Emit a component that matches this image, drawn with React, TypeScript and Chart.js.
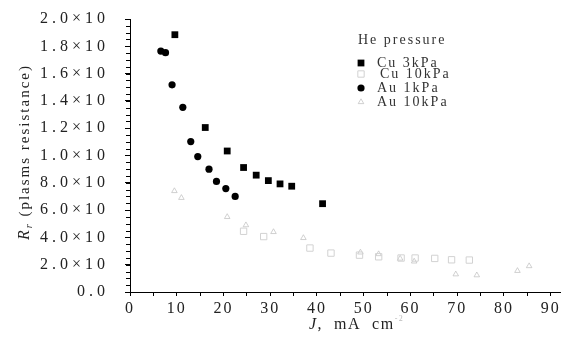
import React, { useEffect, useRef } from "react";
import { Chart, registerables } from "chart.js";

Chart.register(...registerables);

const cu3J = [9.6, 16.1, 20.8, 24.3, 27.0, 29.6, 32.1, 34.6, 41.2];
const cu3R = [1.885, 1.205, 1.033, 0.912, 0.856, 0.816, 0.792, 0.775, 0.647];

const cu10J = [24.3, 28.6, 38.5, 43.0, 49.1, 53.2, 58.0, 61.0, 65.2, 68.8, 72.6];
const cu10R = [0.445, 0.406, 0.322, 0.285, 0.27, 0.258, 0.249, 0.249, 0.246, 0.236, 0.234];

const au1J = [6.6, 7.6, 9.0, 11.3, 13.0, 14.5, 16.9, 18.5, 20.5, 22.5];
const au1R = [1.765, 1.753, 1.518, 1.353, 1.102, 0.992, 0.9, 0.81, 0.758, 0.7];

const au10J = [9.5, 11.0, 20.8, 24.8, 30.7, 37.1, 49.3, 53.2, 57.8, 60.8, 69.7, 74.2, 82.9, 85.4];
const au10R = [0.74, 0.69, 0.55, 0.49, 0.44, 0.396, 0.29, 0.278, 0.245, 0.224, 0.13, 0.123, 0.155, 0.19];

const yTickLabels = [
  "0.0", "2.0×10", "4.0×10", "6.0×10", "8.0×10", "1.0×10",
  "1.2×10", "1.4×10", "1.6×10", "1.8×10", "2.0×10",
];

const seriesNames = ["Cu 3kPa", "Cu 10kPa", "Au 1kPa", "Au 10kPa"];
const legendTitle = "He pressure";
const xTitle = ",  mA  cm";
const yTitleRest = " (plasms resistance)";

const FONT = "'Liberation Serif', 'DejaVu Serif', serif";

const zip = (xs: number[], ys: number[]) => xs.map((x, i) => ({ x, y: ys[i] }));

const styles = [
  { pointStyle: "rect", radius: 4.8, bg: "#000", border: "#000", bw: 0 },
  { pointStyle: "rect", radius: 4.5, bg: "rgba(0,0,0,0)", border: "#d2d2d2", bw: 1 },
  { pointStyle: "circle", radius: 3.6, bg: "#000", border: "#000", bw: 0 },
  { pointStyle: "triangle", radius: 3.2, bg: "rgba(0,0,0,0)", border: "#bdbdbd", bw: 0.7 },
];

const spacingPlugin = {
  id: "spacing",
  afterUpdate(chart: any) {
    const apply = (scale: any, spacing: string) => {
      if (!scale || scale.__patched) return;
      const orig = scale.drawLabels.bind(scale);
      scale.drawLabels = (area: any) => {
        const ctx = chart.ctx;
        ctx.save();
        ctx.letterSpacing = spacing;
        orig(area);
        ctx.restore();
      };
      scale.__patched = true;
    };
    apply(chart.scales.y, "4px");
    apply(chart.scales.x, "2px");
  },
};

const overlayPlugin = {
  id: "overlay",
  afterDraw(chart: any) {
    const ctx = chart.ctx as CanvasRenderingContext2D;
    const area = chart.chartArea;
    const ys = chart.scales.y;
    ctx.save();
    // minor ticks on y
    ctx.strokeStyle = "#000";
    ctx.lineWidth = 1;
    for (let v = 0; v <= 2.0001; v += 0.05) {
      const py = Math.round(ys.getPixelForValue(v)) + 0.5;
      ctx.beginPath();
      ctx.moveTo(area.left - 4, py);
      ctx.lineTo(area.left + 1, py);
      ctx.stroke();
    }
    ctx.restore();

    // y title
    ctx.save();
    (ctx as any).letterSpacing = "2px";
    ctx.fillStyle = "#222";
    ctx.textBaseline = "middle";
    ctx.textAlign = "left";
    ctx.translate(25, 152);
    ctx.rotate(-Math.PI / 2);
    ctx.font = `italic 16px ${FONT}`;
    const rW = ctx.measureText("R").width;
    ctx.font = `italic 10px ${FONT}`;
    const subW = ctx.measureText("r").width;
    ctx.font = `15px ${FONT}`;
    const restW = ctx.measureText(yTitleRest).width;
    let x0 = -(rW + subW + restW) / 2;
    ctx.font = `italic 16px ${FONT}`;
    ctx.fillText("R", x0, 0);
    x0 += rW;
    ctx.font = `italic 10px ${FONT}`;
    ctx.fillText("r", x0, 4);
    x0 += subW;
    ctx.font = `15px ${FONT}`;
    ctx.fillText(yTitleRest, x0, 0);
    ctx.restore();

    // x title
    ctx.save();
    ctx.fillStyle = "#222";
    ctx.textBaseline = "middle";
    ctx.textAlign = "left";
    (ctx as any).letterSpacing = "1.5px";
    const ty = 325;
    let xx = 309;
    ctx.font = `italic 16px ${FONT}`;
    ctx.fillText("J", xx, ty);
    xx += ctx.measureText("J").width;
    ctx.font = `16px ${FONT}`;
    ctx.fillText(xTitle, xx, ty);
    xx += ctx.measureText(xTitle).width;
    ctx.fillStyle = "#bbb";
    ctx.font = `8px ${FONT}`;
    ctx.fillText("-2", xx, ty - 6);
    ctx.restore();

    // legend
    ctx.save();
    (ctx as any).letterSpacing = "2px";
    ctx.fillStyle = "#333";
    ctx.textBaseline = "middle";
    ctx.textAlign = "left";
    ctx.font = `14px ${FONT}`;
    ctx.fillText(legendTitle, 358, 40);
    const rows = [63, 74, 88, 102];
    const textX = [377, 380, 377, 377];
    chart.data.datasets.forEach((ds: any, i: number) => {
      const st = styles[i];
      ctx.save();
      ctx.fillStyle = st.bg;
      ctx.strokeStyle = st.border;
      ctx.lineWidth = st.bw;
      const cx = 361;
      const cy = rows[i];
      ctx.beginPath();
      if (st.pointStyle === "rect") {
        const s = st.radius * Math.SQRT1_2;
        ctx.rect(cx - s, cy - s, 2 * s, 2 * s);
      } else if (st.pointStyle === "circle") {
        ctx.arc(cx, cy, st.radius, 0, Math.PI * 2);
      } else {
        const r = st.radius;
        ctx.moveTo(cx, cy - r);
        ctx.lineTo(cx + r * 0.866, cy + r * 0.5);
        ctx.lineTo(cx - r * 0.866, cy + r * 0.5);
        ctx.closePath();
      }
      if (st.bw === 0) ctx.fill();
      else ctx.stroke();
      ctx.restore();
      ctx.fillStyle = "#333";
      ctx.fillText(ds.label, textX[i], rows[i]);
    });
    ctx.restore();
  },
};

export default function App() {
  const ref = useRef<HTMLCanvasElement | null>(null);

  useEffect(() => {
    document.body.style.margin = "0";
    const canvas = ref.current;
    if (!canvas) return;
    const sets = [zip(cu3J, cu3R), zip(cu10J, cu10R), zip(au1J, au1R), zip(au10J, au10R)];
    const chart = new Chart(canvas, {
      type: "scatter",
      data: {
        datasets: sets.map((d, i) => ({
          label: seriesNames[i],
          data: d,
          pointStyle: styles[i].pointStyle as any,
          pointRadius: styles[i].radius,
          pointBackgroundColor: styles[i].bg,
          pointBorderColor: styles[i].border,
          pointBorderWidth: styles[i].bw,
          showLine: false,
        })),
      },
      options: {
        animation: false,
        responsive: false,
        devicePixelRatio: 1,
        layout: { padding: { left: 30, top: 19, right: 10, bottom: 0 } },
        plugins: { legend: { display: false }, tooltip: { enabled: false } },
        scales: {
          x: {
            type: "linear",
            min: 0,
            max: 92,
            afterFit: (s: any) => {
              s.height = 50;
              s.paddingLeft = 0;
              s.paddingRight = 0;
            },
            border: { display: true, color: "#000", width: 1 },
            grid: { drawOnChartArea: false, drawTicks: true, tickLength: 4, color: "#000" },
            ticks: {
              stepSize: 5,
              includeBounds: false,
              autoSkip: false,
              maxRotation: 0,
              padding: 3,
              color: "#222",
              font: { family: FONT, size: 16 },
              callback: (v: any) => (Math.round(v) % 10 === 0 ? String(Math.round(v)) : ""),
            },
          },
          y: {
            type: "linear",
            min: 0,
            max: 2.0,
            afterFit: (s: any) => {
              s.width = 100;
              s.paddingTop = 0;
              s.paddingBottom = 0;
            },
            border: { display: true, color: "#000", width: 1 },
            grid: { drawOnChartArea: false, drawTicks: true, tickLength: 5, color: "#000" },
            ticks: {
              stepSize: 0.2,
              autoSkip: false,
              padding: 16,
              color: "#222",
              font: { family: FONT, size: 16 },
              callback: (v: any) => {
                const idx = Math.round(Number(v) / 0.2);
                return yTickLabels[idx] ?? "";
              },
            },
          },
        },
      },
      plugins: [spacingPlugin, overlayPlugin],
    });
    return () => chart.destroy();
  }, []);

  return <canvas ref={ref} width={570} height={342} style={{ display: "block" }} />;
}
